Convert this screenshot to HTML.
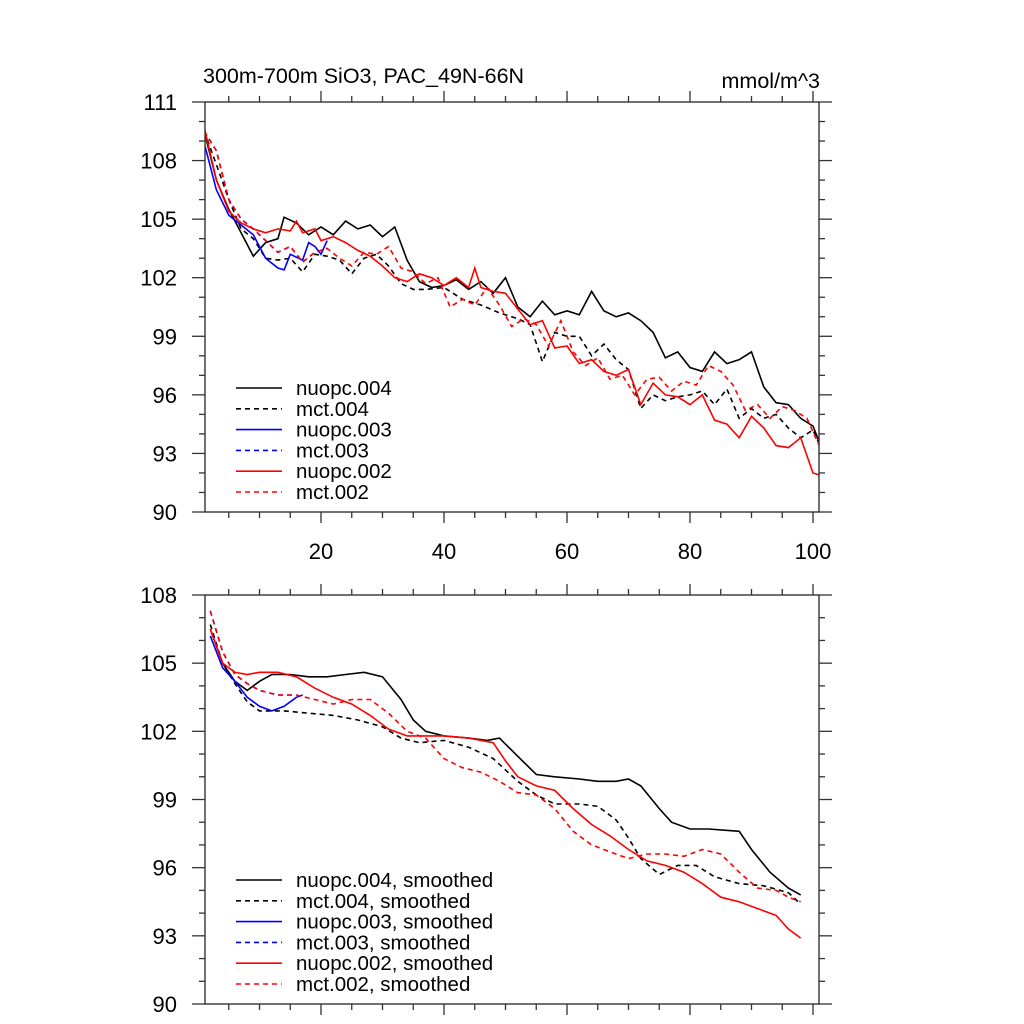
<!DOCTYPE html>
<html><head><meta charset="utf-8"><style>
body{margin:0;background:#fff}
svg{display:block;font-family:"Liberation Sans",sans-serif}
</style></head><body>
<svg id="c" width="1024" height="1024" xmlns="http://www.w3.org/2000/svg">
<text x="203" y="83" font-size="21.5">300m-700m SiO3, PAC_49N-66N</text>
<text x="820" y="88" font-size="21.5" text-anchor="end">mmol/m^3</text>
</svg>
<script>
// ---- data: top panel (annual) ----
const topNuopc004X=[1,3,5,7,9,11,13,14,16,18,20,22,24,26,28,30,32,34,36,38,40,42,44,46,48,50,52,54,56,58,60,62,64,66,68,70,72,74,76,78,80,82,84,86,88,90,92,94,96,98,100,101];
const topNuopc004Y=[109.5,107,105.5,104.3,103.1,103.8,104.0,105.1,104.8,104.2,104.6,104.2,104.9,104.5,104.7,104.1,104.6,102.9,101.8,101.5,101.6,101.9,101.4,101.8,101.2,102.0,100.5,100.0,100.8,100.1,100.3,100.1,101.3,100.3,100.0,100.2,99.8,99.2,97.9,98.2,97.4,97.2,98.2,97.6,97.8,98.2,96.4,95.6,95.5,94.8,94.4,93.6];
const topMct004X=[1,3,5,7,9,11,13,15,17,19,21,23,25,27,29,31,33,35,37,40,43,46,49,52,54,56,58,60,62,64,66,68,70,72,74,76,78,80,82,84,86,88,90,92,94,96,98,100,101];
const topMct004Y=[109.5,107.8,106,104.5,104,103.0,102.9,103.0,102.3,103.2,103.1,102.9,102.2,103.0,103.2,102.6,101.7,101.4,101.4,101.5,100.9,100.6,100.2,99.9,99.6,97.7,99.2,99.0,99.0,98.0,98.6,97.8,97.3,95.3,96.0,95.7,95.9,96.0,96.2,95.5,96.3,94.8,95.3,94.8,95.0,94.3,93.8,94.2,93.5];
const topNuopc003X=[1,3,5,7,9,11,13,14,15,17,18,19,20,21];
const topNuopc003Y=[108.9,106.5,105.2,104.7,104.2,103.0,102.5,102.4,103.2,102.9,103.8,103.6,103.2,103.9];
const topMct003X=[1,3,5,7,9,11,13,15,17,19,21];
const topMct003Y=[109.5,108.5,106,105,104.5,103.9,103.3,103.6,102.8,103.3,103.5];
const topNuopc002X=[1,3,5,7,9,11,13,15,16,17,19,20,22,24,26,28,30,32,34,36,38,40,42,44,45,46,48,50,52,54,56,58,60,62,64,66,68,70,72,74,76,78,80,82,84,86,88,90,92,94,96,98,100,101];
const topNuopc002Y=[109.7,107,105.4,104.8,104.5,104.3,104.5,104.4,104.9,104.3,104.5,103.9,104.1,103.8,103.4,103.1,102.6,102.0,101.8,102.2,102.0,101.6,102.0,101.5,102.5,101.5,101.3,101.2,100.4,99.6,99.8,98.4,98.5,97.6,97.8,97.2,97.0,97.3,95.5,96.6,96.0,95.9,95.5,96.0,94.7,94.5,93.8,94.9,94.3,93.4,93.3,93.8,92.0,91.9];
const topMct002X=[1,3,5,7,9,11,13,15,17,19,21,23,25,27,29,31,33,35,37,39,41,43,45,47,49,51,53,55,57,59,61,63,65,67,69,71,73,75,77,79,81,83,85,87,89,91,93,95,97,99,101];
const topMct002Y=[109.5,108.5,106,105,104.5,103.9,103.3,103.6,102.8,103.3,103.5,103.0,102.6,103.3,103.2,103.6,102.5,102.3,101.7,102.0,100.5,100.9,100.6,101.5,100.6,99.5,99.9,99.6,98.5,99.8,98.2,97.5,97.9,96.8,97.0,96.0,96.8,96.9,96.2,96.7,96.5,97.5,97.2,96.5,95.2,95.5,94.8,95.4,95.2,94.8,93.4];
// ---- data: bottom panel (smoothed) ----
const botNuopc004X=[2,4,6,8,10,12,15,18,21,24,27,30,33,35,37,40,44,47,49,52,55,58,62,65,68,70,72,75,77,80,83,88,90,93,96,98];
const botNuopc004Y=[106.5,105.0,104.2,103.8,104.2,104.5,104.5,104.4,104.4,104.5,104.6,104.4,103.4,102.5,102.0,101.8,101.7,101.6,101.7,100.9,100.1,100.0,99.9,99.8,99.8,99.9,99.6,98.6,98.0,97.7,97.7,97.6,96.8,95.8,95.1,94.8];
const botMct004X=[2,4,6,8,10,14,18,22,26,30,33,36,40,44,48,52,55,58,62,65,68,70,72,75,78,81,84,88,92,96,98];
const botMct004Y=[106.7,105.0,104.1,103.3,102.9,102.9,102.8,102.7,102.5,102.2,101.7,101.5,101.6,101.3,100.8,99.8,99.2,98.8,98.8,98.7,98.1,97.3,96.4,95.7,96.1,96.1,95.6,95.3,95.2,94.9,94.4];
const botNuopc003X=[2,4,6,8,10,12,14,16,17];
const botNuopc003Y=[106.2,104.8,104.2,103.5,103.1,102.9,103.1,103.5,103.6];
const botMct003X=[2,4,6,8,10,13,16];
const botMct003Y=[107.3,105.5,104.5,104.1,103.8,103.6,103.6];
const botNuopc002X=[2,4,6,8,10,13,16,19,22,25,28,31,34,37,40,44,48,50,52,55,58,61,64,67,70,73,76,79,82,85,88,91,94,96,98];
const botNuopc002Y=[106.5,105.0,104.6,104.5,104.6,104.6,104.4,103.9,103.5,103.2,102.7,102.1,101.8,101.8,101.8,101.7,101.5,100.7,100.0,99.6,99.4,98.6,97.9,97.4,96.8,96.3,96.1,95.8,95.3,94.7,94.5,94.2,93.9,93.3,92.9];
const botMct002X=[2,4,6,8,10,13,16,19,22,25,28,31,34,37,40,43,46,49,52,55,58,61,64,67,70,73,76,79,82,85,88,91,94,96,98];
const botMct002Y=[107.3,105.5,104.5,104.1,103.8,103.6,103.6,103.4,103.2,103.4,103.4,102.8,102.0,101.7,100.8,100.4,100.2,99.8,99.3,99.2,98.6,97.6,97.0,96.7,96.4,96.6,96.6,96.5,96.8,96.6,95.8,95.1,95.0,94.7,94.5];
const topYTicks=[90,93,96,99,102,105,108,111];
const botYTicks=[90,93,96,99,102,105,108];
const xTickLabels=[20,40,60,80,100];
const topLegend=["nuopc.004","mct.004","nuopc.003","mct.003","nuopc.002","mct.002"];
const botLegend=["nuopc.004, smoothed","mct.004, smoothed","nuopc.003, smoothed","mct.003, smoothed","nuopc.002, smoothed","mct.002, smoothed"];

const NS="http://www.w3.org/2000/svg";
const svg=document.getElementById('c');
function mk(t,a,p){const e=document.createElementNS(NS,t);for(const k in a)e.setAttribute(k,a[k]);(p||svg).appendChild(e);return e;}
const xs=x=>198+6.15*x;
const styles=[["#000",""],["#000","5,4"],["#0000ff",""],["#0000ff","5,4"],["#ff0000",""],["#ff0000","5,4"]];
const AX='#333';

function panel(P){
  const g=mk('g',{});
  
  
  const ys=v=>P.y0+(P.ymax-v)*(P.y1-P.y0)/(P.ymax-P.ymin);
  const cid='clip'+P.name;
  const cp=mk('clipPath',{id:cid},g);mk('rect',{x:P.x0,y:P.y0,width:P.x1-P.x0,height:P.y1-P.y0},cp);
  const lg=mk('g',{'clip-path':'url(#'+cid+')'},g);
  P.series.forEach((s,i)=>{
    const d=s[0].map((x,j)=>(j?'L':'M')+xs(x).toFixed(1)+','+ys(s[1][j]).toFixed(1)).join('');
    const p=mk('path',{d:d,fill:'none',stroke:styles[i][0],'stroke-width':1.6,'stroke-dasharray':styles[i][1]},lg);
    
    
  });
  const f=mk('rect',{x:P.x0,y:P.y0,width:P.x1-P.x0,height:P.y1-P.y0,fill:'none',stroke:AX,'stroke-width':1.4},g);
  
  
  for(let v=P.ymin;v<=P.ymax;v++){
    const y=ys(v),maj=(v-P.ymin)%3===0,L=maj?13:6;
    mk('line',{x1:P.x0,x2:P.x0-L,y1:y,y2:y,stroke:AX,'stroke-width':1.3},g);
    mk('line',{x1:P.x1,x2:P.x1+L,y1:y,y2:y,stroke:AX,'stroke-width':1.3},g);
  }
  P.yt.forEach(v=>{
    const t=mk('text',{x:177,y:ys(v)+8,'font-size':22,'text-anchor':'end'},g);t.textContent=v;
    
    
  });
  for(let x=5;x<=100;x+=5){
    const px=xs(x),maj=x%20===0,L=maj?11:6;
    mk('line',{x1:px,x2:px,y1:P.y1,y2:P.y1+L,stroke:AX,'stroke-width':1.3},g);
    mk('line',{x1:px,x2:px,y1:P.y0,y2:P.y0-L,stroke:AX,'stroke-width':1.3},g);
  }
  if(P.xlabels){xTickLabels.forEach(x=>{
    const t=mk('text',{x:xs(x),y:P.y1+47,'font-size':22,'text-anchor':'middle'},g);t.textContent=x;
    
    
  });}
  P.legend.forEach((n,i)=>{
    const y=P.ly+i*20.8;
    const le=mk('g',{},g);
    
    
    mk('line',{x1:236,x2:282,y1:y,y2:y,stroke:styles[i][0],'stroke-width':1.6,'stroke-dasharray':styles[i][1]},le);
    const t=mk('text',{x:296,y:y+7,'font-size':20.5},le);t.textContent=n;
  });
}
panel({name:'top-panel',x0:205,x1:819,y0:102,y1:512,ymin:90,ymax:111,yt:topYTicks,xlabels:true,ly:388,legend:topLegend,
  snames:['nuopc004-line','mct004-line','nuopc003-line','mct003-line','nuopc002-line','mct002-line'],
  series:[[topNuopc004X,topNuopc004Y],[topMct004X,topMct004Y],[topNuopc003X,topNuopc003Y],[topMct003X,topMct003Y],[topNuopc002X,topNuopc002Y],[topMct002X,topMct002Y]]});
panel({name:'bottom-panel',x0:205,x1:819,y0:595,y1:1004,ymin:90,ymax:108,yt:botYTicks,xlabels:false,ly:880,legend:botLegend,
  snames:['nuopc004-smoothed','mct004-smoothed','nuopc003-smoothed','mct003-smoothed','nuopc002-smoothed','mct002-smoothed'],
  series:[[botNuopc004X,botNuopc004Y],[botMct004X,botMct004Y],[botNuopc003X,botNuopc003Y],[botMct003X,botMct003Y],[botNuopc002X,botNuopc002Y],[botMct002X,botMct002Y]]});
</script>
</body></html>
